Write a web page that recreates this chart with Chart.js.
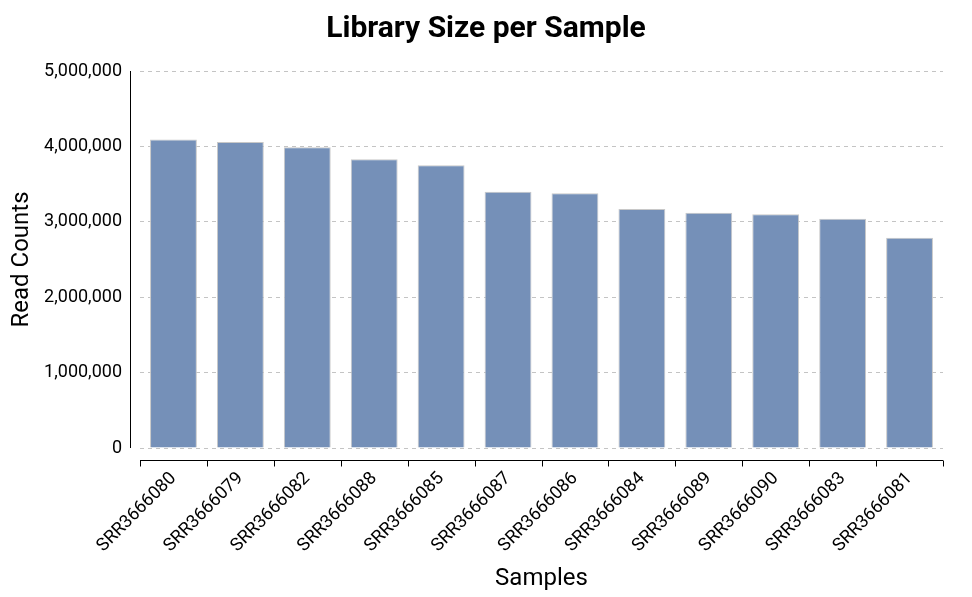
<!DOCTYPE html>
<html>
<head>
<meta charset="utf-8">
<script src="https://cdn.jsdelivr.net/npm/chart.js@4.4.1/dist/chart.umd.min.js"></script>
<style>
  html, body { margin: 0; padding: 0; background: #fff; }
  #wrap { width: 972px; height: 597px; }
</style>
</head>
<body>
<div id="wrap"><canvas id="chart" width="972" height="597"></canvas></div>
<script>
// Library sizes
const samples = [
  'SRR3666080', 'SRR3666079', 'SRR3666082', 'SRR3666088', 'SRR3666085', 'SRR3666087',
  'SRR3666086', 'SRR3666084', 'SRR3666089', 'SRR3666090', 'SRR3666083', 'SRR3666081',
];
const readCounts = [
  4090000, 4060000, 3990000, 3830000, 3750000, 3400000,
  3380000, 3170000, 3120000, 3100000, 3040000, 2790000,
];
const yTicks = [0, 1000000, 2000000, 3000000, 4000000, 5000000];

const FONT = 'Roboto, "Noto Sans", sans-serif';

// detached axis lines like the reference (offset from the plot area)
const offsetAxes = {
  id: 'offsetAxes',
  afterDraw(chart) {
    const { ctx, chartArea, scales } = chart;
    const y = scales.y;
    ctx.save();
    ctx.strokeStyle = '#000';
    ctx.lineWidth = 1;
    // y axis line
    const yx = Math.round(chartArea.left - 10) + 0.5;
    ctx.beginPath();
    ctx.moveTo(yx, y.getPixelForValue(5000000));
    ctx.lineTo(yx, y.getPixelForValue(0));
    ctx.stroke();
    // x axis line with ticks at category boundaries
    const xy = Math.round(chartArea.bottom + 12) + 0.5;
    ctx.beginPath();
    ctx.moveTo(chartArea.left, xy);
    ctx.lineTo(chartArea.right, xy);
    const n = samples.length;
    const step = (chartArea.right - chartArea.left) / n;
    for (let i = 0; i <= n; i++) {
      const px = Math.round(chartArea.left + i * step) + 0.5;
      ctx.moveTo(px, xy);
      ctx.lineTo(px, xy + 6);
    }
    ctx.stroke();
    ctx.restore();
  },
};

new Chart(document.getElementById('chart'), {
  type: 'bar',
  data: {
    labels: samples,
    datasets: [{
      label: 'Read Counts',
      data: readCounts,
      backgroundColor: '#7590b8',
      borderColor: '#c8c8c8',
      borderWidth: 1,
      barPercentage: 0.7,
      categoryPercentage: 1,
    }],
  },
  options: {
    responsive: false,
    animation: false,
    layout: { padding: 0 },
    plugins: {
      legend: { display: false },
      tooltip: { enabled: false },
      title: {
        display: true,
        text: 'Library Size per Sample',
        color: '#000',
        font: { family: FONT, size: 30, weight: 'bold' },
        padding: { top: 11, bottom: 24 },
      },
    },
    scales: {
      y: {
        min: 0,
        max: 5000000,
        afterBuildTicks(scale) {
          scale.ticks = yTicks.map((v) => ({ value: v }));
        },
        afterFit(scale) {
          scale.width = 140;
        },
        grid: {
          color: '#c4c4c4',
          drawTicks: false,
        },
        border: { display: false, dash: [4, 4] },
        ticks: {
          color: '#000',
          padding: 18,
          font: { family: FONT, size: 18 },
          callback: (v) => v.toLocaleString('en-US'),
        },
        title: {
          display: true,
          text: 'Read Counts',
          color: '#000',
          font: { family: FONT, size: 24 },
          padding: { top: 8, bottom: 4 },
        },
      },
      // empty right-hand spacer so the plot ends where the reference does
      spacer: {
        type: 'linear',
        position: 'right',
        afterFit(scale) {
          scale.width = 29;
        },
        grid: { display: false, drawTicks: false },
        border: { display: false },
        ticks: { display: false },
      },
      x: {
        afterFit(scale) {
          scale.height = 149;
        },
        border: { display: false },
        grid: { display: false, drawTicks: false },
        ticks: {
          color: '#000',
          padding: 20,
          minRotation: 45,
          maxRotation: 45,
          font: { family: FONT, size: 18 },
        },
        title: {
          display: true,
          text: 'Samples',
          color: '#000',
          font: { family: FONT, size: 24 },
          padding: { top: 0, bottom: 4 },
        },
      },
    },
  },
  plugins: [offsetAxes],
});
</script>
</body>
</html>
